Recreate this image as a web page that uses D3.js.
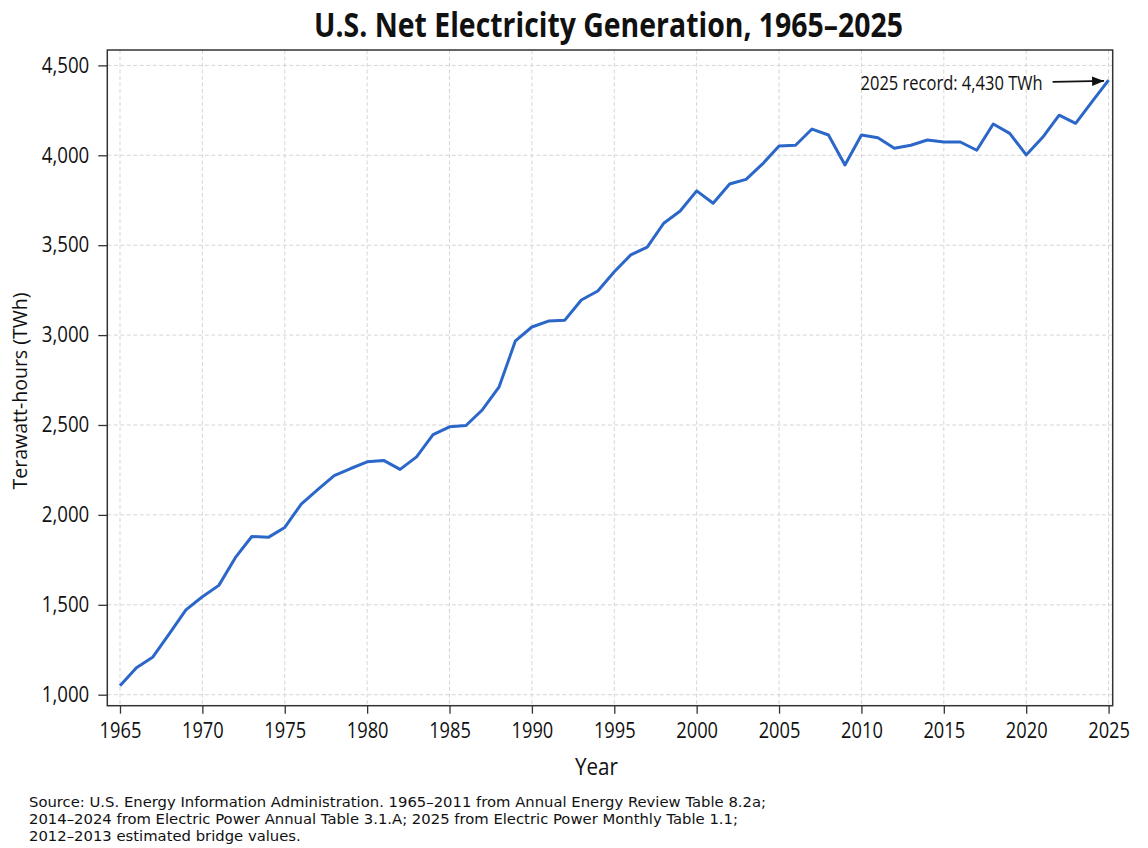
<!DOCTYPE html>
<html>
<head>
<meta charset="utf-8">
<script src="https://cdn.jsdelivr.net/npm/d3@7"></script>
<style>
  body { margin: 0; background: #fff; }
  svg text { font-family: "Open Sans", "Noto Sans", sans-serif; fill: #111; }
  .grid line { stroke: #d6d6d6; stroke-width: 1; stroke-dasharray: 4 2.5; }
  .axis line { stroke: #333; stroke-width: 1.3; }
  .axis path { display: none; }
</style>
</head>
<body>
<svg id="chart" width="1148" height="848"></svg>
<script>
// net generation in TWh, one value per year
const years = d3.range(1965, 2026);
const generation = [
  1050, 1150, 1210, 1340, 1472, 1545, 1608, 1762, 1880, 1875,   // 1965-1974
  1930, 2060, 2140, 2218, 2258, 2295, 2303, 2253, 2323, 2446,   // 1975-1984
  2490, 2497, 2585, 2710, 2968, 3045, 3078, 3083, 3195, 3245,   // 1985-1994
  3352, 3446, 3489, 3622, 3690, 3802, 3733, 3840, 3866, 3952,   // 1995-2004
  4052, 4056, 4146, 4113, 3946, 4113, 4097, 4039, 4056, 4085,   // 2005-2014
  4074, 4074, 4028, 4174, 4122, 4002, 4100, 4223, 4178, 4298,   // 2015-2024
  4418                                                          // 2025
];
const xTicks = d3.range(1965, 2026, 5);
const yTicks = [1000, 1500, 2000, 2500, 3000, 3500, 4000, 4500];

const titleText = "U.S. Net Electricity Generation, 1965\u20132025";
const xLabel = "Year";
const yLabel = "Terawatt-hours (TWh)";
const recordLabel = "2025 record: 4,430 TWh";
const sourceLines = [
  "Source: U.S. Energy Information Administration. 1965\u20132011 from Annual Energy Review Table 8.2a;",
  "2014\u20132024 from Electric Power Annual Table 3.1.A; 2025 from Electric Power Monthly Table 1.1;",
  "2012\u20132013 estimated bridge values."
];

const plot = {left: 107.3, right: 1112.7, top: 50, bottom: 705.7};
const svg = d3.select("#chart");

const x = d3.scaleLinear().domain([1964.23, 2025.25]).range([plot.left, plot.right]);
const y = d3.scaleLinear().domain([938.8, 4585.6]).range([plot.bottom, plot.top]);

// the text in the picture is narrower than the fonts we have, squeeze it horizontally
function squeeze(sel, k) {
  sel.each(function() {
    const w = this.getComputedTextLength();
    d3.select(this).attr("textLength", w * k).attr("lengthAdjust", "spacingAndGlyphs");
  });
}

// grid
const grid = svg.append("g").attr("class", "grid");
grid.selectAll(".gx").data(xTicks).join("line")
    .attr("x1", d => x(d)).attr("x2", d => x(d))
    .attr("y1", plot.top).attr("y2", plot.bottom);
grid.selectAll(".gy").data(yTicks).join("line")
    .attr("class", "gy")
    .attr("x1", plot.left).attr("x2", plot.right)
    .attr("y1", d => y(d)).attr("y2", d => y(d));

// the series
const line = d3.line().x((d, i) => x(years[i])).y(d => y(d));
svg.append("path")
   .datum(generation)
   .attr("d", line)
   .attr("fill", "none")
   .attr("stroke", "#2b67c9")
   .attr("stroke-width", 3)
   .attr("stroke-linejoin", "round");

// frame
svg.append("rect")
   .attr("x", plot.left).attr("y", plot.top)
   .attr("width", plot.right - plot.left).attr("height", plot.bottom - plot.top)
   .attr("fill", "none").attr("stroke", "#333").attr("stroke-width", 1.5);

// axes
const xAxis = svg.append("g").attr("class", "axis")
   .attr("transform", `translate(0,${plot.bottom})`)
   .call(d3.axisBottom(x).tickValues(xTicks).tickFormat(d3.format("d")).tickSize(8).tickPadding(9));
xAxis.selectAll("text").attr("font-size", 21).attr("fill", "#111").call(squeeze, 0.87);

const yAxis = svg.append("g").attr("class", "axis")
   .attr("transform", `translate(${plot.left},0)`)
   .call(d3.axisLeft(y).tickValues(yTicks).tickFormat(d3.format(",")).tickSize(9).tickPadding(9));
yAxis.selectAll("text").attr("font-size", 21).attr("fill", "#111").call(squeeze, 0.89);

// title and axis labels
svg.append("text")
   .attr("x", 608.5).attr("y", 36.5)
   .attr("text-anchor", "middle")
   .attr("font-size", 34).attr("font-weight", "bold")
   .attr("textLength", 589).attr("lengthAdjust", "spacingAndGlyphs")
   .text(titleText);

svg.append("text")
   .attr("x", 596.5).attr("y", 775)
   .attr("text-anchor", "middle")
   .attr("font-size", 23)
   .attr("textLength", 43).attr("lengthAdjust", "spacingAndGlyphs")
   .text(xLabel);

svg.append("text")
   .attr("transform", "translate(27,391) rotate(-90)")
   .attr("text-anchor", "middle")
   .attr("font-size", 19.5)
   .attr("textLength", 197).attr("lengthAdjust", "spacingAndGlyphs")
   .text(yLabel);

// record annotation with arrow
const last = generation.length - 1;
const px = x(years[last]), py = y(generation[last]);

svg.append("defs").append("marker")
   .attr("id", "head")
   .attr("markerUnits", "userSpaceOnUse")
   .attr("markerWidth", 13).attr("markerHeight", 10)
   .attr("refX", 12).attr("refY", 4.75)
   .attr("orient", "auto")
   .append("path").attr("d", "M0,0 L12,4.75 L0,9.5 Z").attr("fill", "#111");

svg.append("line")
   .attr("x1", px - 56).attr("y1", py + 1.8)
   .attr("x2", px - 4.5).attr("y2", py + 0.8)
   .attr("stroke", "#111").attr("stroke-width", 1.8)
   .attr("marker-end", "url(#head)");

svg.append("text")
   .attr("x", px - 66).attr("y", py + 10)
   .attr("text-anchor", "end")
   .attr("font-size", 19.5)
   .attr("textLength", 182).attr("lengthAdjust", "spacingAndGlyphs")
   .text(recordLabel);

// source note
const note = svg.append("g")
   .attr("font-size", 14.5);
note.selectAll("text").data(sourceLines).join("text")
   .attr("x", 29).attr("y", (d, i) => 806.5 + i * 17)
   .style("font-family", "'DejaVu Sans', sans-serif")
   .text(d => d);
const firstWidth = note.select("text").node().getComputedTextLength();
note.selectAll("text").call(squeeze, 737 / firstWidth);
</script>
</body>
</html>
